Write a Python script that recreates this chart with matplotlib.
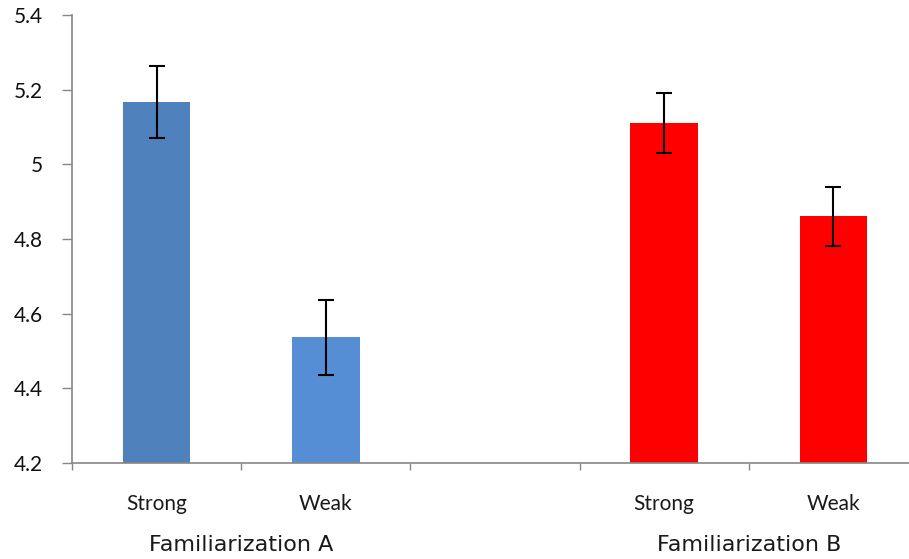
import numpy as np
import matplotlib
matplotlib.use("Agg")
import matplotlib.pyplot as plt
from matplotlib.ticker import FixedLocator

# data (the empty slot separates the two familiarization groups)
categories = ["Strong", "Weak", "", "Strong", "Weak"]
means = [5.167, 4.537, np.nan, 5.110, 4.861]
errors = [0.097, 0.100, np.nan, 0.080, 0.079]
colors = ["#4F81BD", "#558ED5", "#FFFFFF", "#FF0000", "#FF0000"]
groups = ["Familiarization A", "Familiarization B"]
group_centers = [0.5, 3.5]

plt.rcParams["font.family"] = ["Lato", "DejaVu Sans"]

fig = plt.figure(figsize=(9.09, 5.59), dpi=100)
ax = fig.add_axes([0.0792, 0.1717, 0.9307, 0.8014])

x = np.arange(len(categories))
ax.bar(x, means, width=0.4, color=colors, edgecolor="none", zorder=2)
ax.errorbar(x, means, yerr=errors, fmt="none", ecolor="black",
            elinewidth=1.5, capsize=5.5, capthick=1.5, zorder=3)

ax.set_xlim(-0.5, len(categories) - 0.5)
ax.set_ylim(4.2, 5.4)
ax.set_yticks(np.arange(4.2, 5.41, 0.2))
ax.set_yticklabels(["4.2", "4.4", "4.6", "4.8", "5", "5.2", "5.4"])

ax.set_xticks(x)
ax.set_xticklabels(categories)
ax.xaxis.set_minor_locator(FixedLocator(np.arange(-0.5, len(categories), 1.0)))
ax.tick_params(axis="x", which="major", length=0, pad=22, labelsize=15,
               labelcolor="#1a1a1a")
ax.tick_params(axis="x", which="minor", length=5, width=1, color="#868686")
ax.tick_params(axis="y", length=7, width=1, color="#868686", pad=14,
               labelsize=15, labelcolor="#111111")

for side in ["top", "right"]:
    ax.spines[side].set_visible(False)
for side in ["left", "bottom"]:
    ax.spines[side].set_color("#868686")
    ax.spines[side].set_linewidth(1.2)

for label, gx in zip(groups, group_centers):
    ax.text(gx, -0.183, label, transform=ax.get_xaxis_transform(),
            ha="center", va="center", fontsize=16, color="#1a1a1a",
            family=["DejaVu Sans"])

fig.savefig("out.png", dpi=100)
